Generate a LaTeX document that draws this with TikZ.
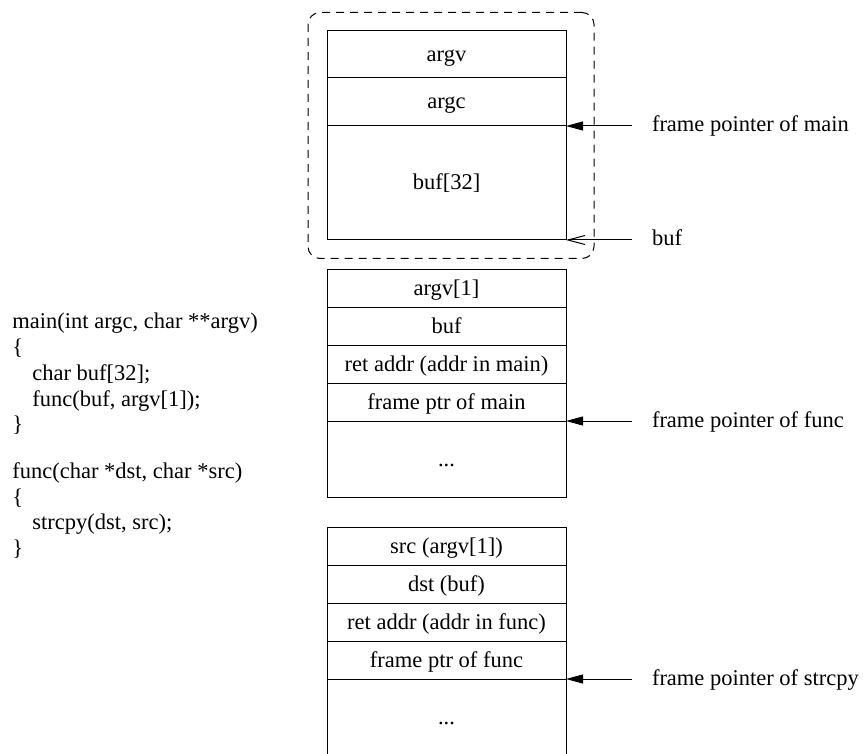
\documentclass[tikz,border=0pt]{standalone}
\usepackage{fontspec}
\setmainfont{Liberation Serif}
\usetikzlibrary{arrows.meta, positioning, fit}
\tikzstyle{cell} = [rectangle, draw=black, line width=0.5pt, minimum width=119.5pt, minimum height=19pt, inner sep=0pt, outer sep=0pt, text height=0.85em, text depth=0.15em]
\tikzstyle{ptrlabel} = [rectangle, inner xsep=10pt, inner ysep=0pt, outer sep=0pt, text height=0.8em, text depth=0.2em]
\tikzstyle{code} = [rectangle, align=left, inner sep=0pt, anchor=west]
\tikzstyle{ptr} = [-{Triangle[length=8.5pt,width=4.5pt]}, line width=0.5pt]
\tikzstyle{ptropen} = [-{Straight Barb[length=8.5pt,width=4.5pt]}, line width=0.5pt]

\begin{document}
\begin{tikzpicture}[x=0.5pt, y=-0.5pt, font=\fontsize{11.25}{12.875}\selectfont, node distance=33pt]
\useasboundingbox (0,0) rectangle (865,753);
\node (argv) [cell, minimum height=23.5pt] at (446.5,54.5) {argv};
\node (argc) [cell, minimum height=24pt, below=0pt of argv] {argc};
\node (bufarr) [cell, minimum height=57pt, below=0pt of argc] {buf[32]};
\node (mainframe) [draw, line width=0.5pt, dash pattern=on 4pt off 3pt, rounded corners=6pt, fit=(argv)(bufarr), inner xsep=11.75pt, inner ysep=9.25pt, xshift=2.25pt] {};
\node (argvone) [cell, below=14.5pt of bufarr] {argv[1]};
\node (bufptr) [cell, below=0pt of argvone] {buf};
\node (retmain) [cell, below=0pt of bufptr] {ret addr (addr in main)};
\node (fpmain) [cell, below=0pt of retmain] {frame ptr of main};
\node (restfunc) [cell, minimum height=38pt, below=0pt of fpmain] {...};
\node (srcarg) [cell, below=15pt of restfunc] {src (argv[1])};
\node (dstarg) [cell, below=0pt of srcarg] {dst (buf)};
\node (retfunc) [cell, below=0pt of dstarg] {ret addr (addr in func)};
\node (fpfunc) [cell, below=0pt of retfunc] {frame ptr of func};
\node (reststrcpy) [cell, minimum height=38pt, below=0pt of fpfunc] {...};
\node (lblfpmain) [ptrlabel, right=of argc.south east] {frame pointer of main};
\node (lblbuf) [ptrlabel, right=of bufarr.south east] {buf};
\node (lblfpfunc) [ptrlabel, right=of fpmain.south east] {frame pointer of func};
\node (lblfpstrcpy) [ptrlabel, right=of fpfunc.south east] {frame pointer of strcpy};
\draw[ptr] (lblfpmain) -- (argc.south east);
\draw[ptropen] (lblbuf) -- (bufarr.south east);
\draw[ptr] (lblfpfunc) -- (fpmain.south east);
\draw[ptr] (lblfpstrcpy) -- (fpfunc.south east);
\node (maincode) [code] at (12,374) {main(int argc, char **argv)\\ \{\\ \hspace*{10pt}char buf[32];\\ \hspace*{10pt}func(buf, argv[1]);\\ \}};
\node (funccode) [code] at (12,510.5) {func(char *dst, char *src)\\ \{\\ \hspace*{10pt}strcpy(dst, src);\\ \}};
\end{tikzpicture}
\end{document}
